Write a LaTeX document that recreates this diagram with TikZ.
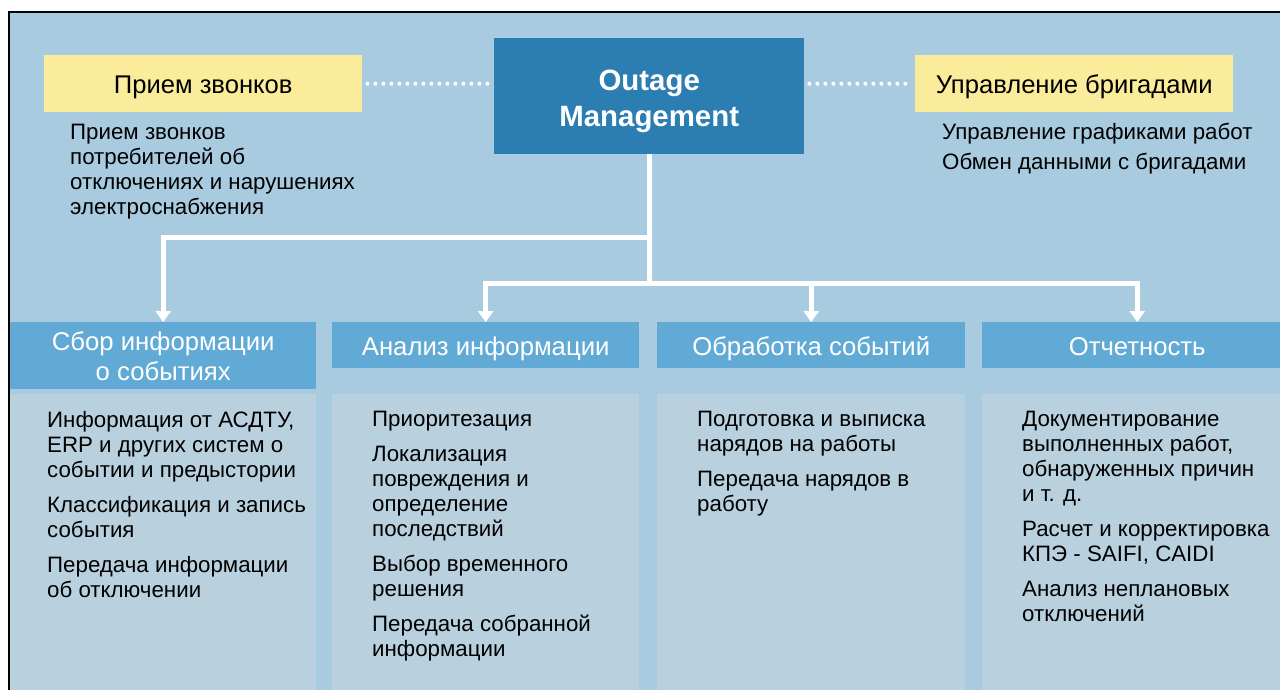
\documentclass[tikz,border=0pt]{standalone}
\usepackage{fontspec}
\setmainfont{Liberation Sans}
\usetikzlibrary{positioning}
\usetikzlibrary{arrows.meta}

\definecolor{bgblue}{HTML}{A8CBE0}
\definecolor{bodyblue}{HTML}{B9D1DF}
\definecolor{headblue}{HTML}{62AAD6}
\definecolor{omblue}{HTML}{2C7DB2}
\definecolor{callyellow}{HTML}{FAEC9A}

\begin{document}
\begin{tikzpicture}[x=1pt,y=-1pt,
  yellowbox/.style={fill=callyellow,anchor=north west,minimum width=318pt,minimum height=57pt,inner sep=0pt,text height=22pt,text depth=2pt,font=\fontsize{25.6}{30}\selectfont},
  headbox/.style={fill=headblue,text=white,anchor=north west,minimum width=307pt,minimum height=46pt,inner sep=0pt,align=center,font=\fontsize{25.7}{30}\selectfont},
  oneline/.style={text height=22pt,text depth=2pt},
  bodybox/.style={fill=bodyblue,anchor=north west,minimum width=307pt,minimum height=300pt,inner sep=0pt},
  desc/.style={anchor=north west,inner sep=0pt,align=left,font=\fontsize{22.3}{25}\selectfont},
  link/.style={white,line width=5pt},
  arr/.style={link,-{Triangle[width=15pt,length=11pt]}},
  dots/.style={white,line width=4pt,line cap=round,dash pattern=on 0pt off 8pt,shorten <=5pt,shorten >=5pt}]

\useasboundingbox (0,0) rectangle (1280,689);
\draw[line width=2pt,fill=bgblue] (9,12) rectangle (1300,720);

% top row
\node[yellowbox] (calls) at (44,55) {Прием звонков};
\node[fill=omblue,text=white,anchor=north west,minimum width=310pt,minimum height=116pt,inner sep=0pt,align=center,font=\bfseries\fontsize{29.4}{36}\selectfont] (om) at (494,38) {\rule{0pt}{31pt}Outage\\Management};
\node[yellowbox] (crews) at (915,55) {Управление бригадами};
\draw[dots] (calls.east) -- (calls.east -| om.west);
\draw[dots] (crews.west -| om.east) -- (crews.west);

\node[desc] (callstxt) at (70,124) {Прием звонков\\потребителей об\\отключениях и нарушениях\\электроснабжения};
\node[desc,font=\fontsize{22.3}{30}\selectfont] (crewstxt) at (942,123) {Управление графиками работ\\Обмен данными с бригадами};

% columns
\node[headbox,minimum width=306pt,minimum height=67pt] (h1) at (10,322) {Сбор информации\\о событиях};
\node[headbox,oneline] (h2) at (332,322) {Анализ информации};
\node[headbox,oneline,minimum width=308pt] (h3) at (657,322) {Обработка событий};
\node[headbox,oneline,minimum width=310pt] (h4) at (982,322) {Отчетность};

\node[bodybox,minimum width=306pt] (b1) at (10,394) {};
\node[bodybox] (b2) at (332,394) {};
\node[bodybox,minimum width=308pt] (b3) at (657,394) {};
\node[bodybox,minimum width=310pt] (b4) at (982,394) {};

\node[desc] (t1) at (47,411) {Информация от АСДТУ,\\ERP и других систем о\\событии и предыстории\\[10pt]Классификация и запись\\события\\[10pt]Передача информации\\об отключении};
\node[desc] (t2) at (372,411) {Приоритезация\\[10pt]Локализация\\повреждения и\\определение\\последствий\\[10pt]Выбор временного\\решения\\[10pt]Передача собранной\\информации};
\node[desc] (t3) at (697,411) {Подготовка и выписка\\нарядов на работы\\[10pt]Передача нарядов в\\работу};
\node[desc] (t4) at (1022,411) {Документирование\\выполненных работ,\\обнаруженных причин\\и т. д.\\[10pt]Расчет и корректировка\\КПЭ - SAIFI, CAIDI\\[10pt]Анализ неплановых\\отключений};

% connectors
\coordinate (j1) at (om.south |- 0,237);
\coordinate (j2) at (om.south |- 0,283);
\draw[link] (om.south) -- (j2);
\draw[arr] (j1) -| (h1.north);
\draw[arr] (j2) -| (h2.north);
\draw[arr] (j2 -| h3.north) -- (h3.north);
\draw[arr] (j2) -| (h4.north);

\end{tikzpicture}
\end{document}
